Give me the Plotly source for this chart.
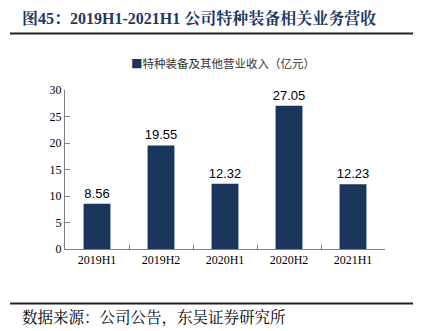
import plotly.graph_objects as go

categories = ["2019H1", "2019H2", "2020H1", "2020H2", "2021H1"]
values = [8.56, 19.55, 12.32, 27.05, 12.23]
labels = ["8.56", "19.55", "12.32", "27.05", "12.23"]
series_name = "特种装备及其他营业收入（亿元）"
title_text = "图45：2019H1-2021H1 公司特种装备相关业务营收"
source_text = "数据来源：公司公告，东吴证券研究所"
y_ticks = [0, 5, 10, 15, 20, 25, 30]

W, H = 421, 331
L, R, T, B = 65, 36, 90, 82
pw, ph = W - L - R, H - T - B

def px(x):
    return (x - L) / pw

def py(y):
    return (H - B - y) / ph

serif = "Times New Roman, Liberation Serif, Noto Serif CJK SC, Noto Sans CJK SC, serif"
bar_color = "#1B365D"

fig = go.Figure()
fig.add_trace(go.Bar(
    x=categories, y=values, name=series_name,
    marker=dict(color=bar_color, line=dict(width=0)),
    width=0.42,
    text=labels, textposition="outside", constraintext="none",
    textfont=dict(family="Arial, Liberation Sans, sans-serif", size=13, color="#000000"),
    cliponaxis=False, showlegend=False,
))

fig.update_layout(
    width=W, height=H,
    margin=dict(l=L, r=R, t=T, b=B),
    paper_bgcolor="white", plot_bgcolor="white",
    showlegend=False,
    xaxis=dict(
        type="category", range=[-0.5, 4.5],
        showline=True, linecolor="#808080", linewidth=1,
        ticks="inside", tickson="boundaries", ticklen=4, tickcolor="#808080",
        tickfont=dict(family=serif, size=12, color="#000000"),
        showgrid=False, zeroline=False,
    ),
    yaxis=dict(
        range=[0, 30], tickvals=y_ticks,
        showline=True, linecolor="#808080", linewidth=1,
        ticks="inside", ticklen=5, tickcolor="#808080",
        tickfont=dict(family=serif, size=12, color="#000000"),
        showgrid=False, zeroline=False,
    ),
    bargap=0.58,
)

# legend drawn as text with a coloured square
fig.add_annotation(
    text=f'<span style="color:{bar_color}">■</span>' + series_name,
    xref="paper", yref="paper",
    x=px(223), y=py(63), xanchor="center", yanchor="middle", showarrow=False,
    font=dict(family="Noto Sans CJK SC, sans-serif", size=11.5, color="#333333"),
)
fig.add_annotation(
    text="<b>" + title_text + "</b>", xref="paper", yref="paper",
    x=px(20), y=py(18), xanchor="left", yanchor="middle", showarrow=False,
    font=dict(family=serif, size=16, color="#1F3864"),
)
fig.add_annotation(
    text=source_text, xref="paper", yref="paper",
    x=px(20), y=py(318), xanchor="left", yanchor="middle", showarrow=False,
    font=dict(family=serif, size=15.5, color="#000000"),
)
fig.add_shape(type="line", xref="paper", yref="paper",
              x0=px(10), x1=px(413), y0=py(33.5), y1=py(33.5),
              line=dict(color="#222222", width=2))
fig.add_shape(type="line", xref="paper", yref="paper",
              x0=px(10), x1=px(413), y0=py(303.5), y1=py(303.5),
              line=dict(color="#222222", width=2))

fig.write_html("out.html")
